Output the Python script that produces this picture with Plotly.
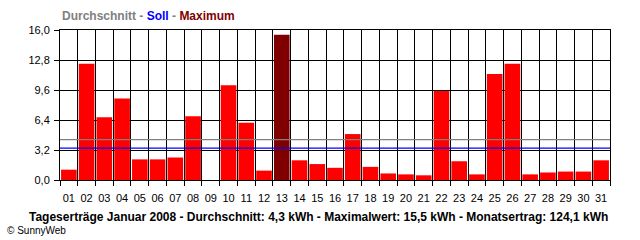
import plotly.graph_objects as go

days = [f"{d:02d}" for d in range(1, 32)]
values = [1.1, 12.4, 6.7, 8.7, 2.2, 2.2, 2.4, 6.8, 0.0, 10.1, 6.1, 1.0, 15.5, 2.1, 1.7,
          1.3, 4.9, 1.4, 0.7, 0.6, 0.5, 9.5, 2.0, 0.6, 11.3, 12.4, 0.6, 0.8, 0.9, 0.9, 2.1]
average = 4.3
target = 3.4
y_ticks = [0.0, 3.2, 6.4, 9.6, 12.8, 16.0]

vmax = max(values)
colors = ["#800000" if v == vmax else "#FF0000" for v in values]

fig = go.Figure()
fig.add_trace(go.Bar(x=days, y=values, marker=dict(color=colors, line=dict(width=0)),
                     hoverinfo="x+y"))

fig.add_hline(y=average, line=dict(color="#808080", width=1.2), layer="above")
fig.add_hline(y=target, line=dict(color="#0000FF", width=1.2), layer="above")

font_main = "Liberation Sans, Arial, sans-serif"

fig.update_layout(
    width=640, height=240,
    margin=dict(l=60, r=30, t=30, b=60),
    paper_bgcolor="white", plot_bgcolor="white",
    separators=",.",
    bargap=0.12,
    showlegend=False,
    font=dict(family=font_main, size=11, color="black"),
    xaxis=dict(
        type="category", tickson="boundaries", tickangle=0,
        showgrid=True, gridcolor="black", gridwidth=1,
        ticks="outside", ticklen=5, tickcolor="black",
        showline=True, linecolor="black", linewidth=1, mirror=True,
        ticklabelstandoff=8,
        tickfont=dict(size=11, family=font_main),
    ),
    yaxis=dict(
        range=[0, 16], tickvals=y_ticks, tickformat=".1f",
        showgrid=True, gridcolor="black", gridwidth=1,
        ticks="outside", ticklen=5, tickcolor="black",
        showline=True, linecolor="black", linewidth=1, mirror=True,
        zeroline=False, ticklabelstandoff=2,
        tickfont=dict(size=11, family=font_main),
    ),
    annotations=[
        dict(xref="paper", yref="paper", x=0, y=1, yshift=14, xanchor="left", yanchor="middle",
             showarrow=False,
             text="<b><span style='color:#808080'>Durchschnitt</span> - "
                  "<span style='color:#0000FF'>Soll</span> - "
                  "<span style='color:#800000'>Maximum</span></b>",
             font=dict(size=12, family=font_main, color="#808080")),
        dict(xref="paper", yref="paper", x=0.5, y=0, yshift=-37, xanchor="center", yanchor="middle",
             xshift=-17,
             showarrow=False,
             text="<b>Tageserträge Januar 2008 - Durchschnitt: 4,3 kWh - Maximalwert: 15,5 kWh - Monatsertrag: 124,1 kWh</b>",
             font=dict(size=12, family=font_main, color="black")),
        dict(xref="paper", yref="paper", x=0, y=0, xshift=-55, yshift=-50, xanchor="left", yanchor="middle",
             showarrow=False, text="© SunnyWeb",
             font=dict(size=10, family=font_main, color="black")),
    ],
)

fig.write_html("out.html")
